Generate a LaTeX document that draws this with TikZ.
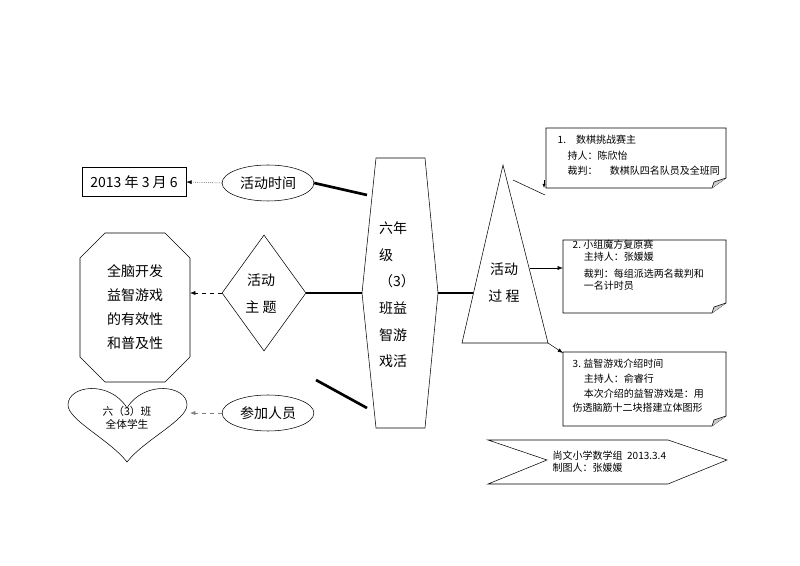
\documentclass[tikz,border=0pt]{standalone}
\usepackage{fontspec}
\setmainfont{Liberation Serif}
\newfontfamily\cjk{Noto Sans CJK SC}
\usetikzlibrary{shapes.geometric,arrows.meta}
\tikzset{
    big/.style={font=\cjk\fontsize{10.5}{12}\selectfont},
    small/.style={font=\cjk\fontsize{7.5}{9}\selectfont, anchor=west},
    thickline/.style={line width=2pt},
    note/.style={draw, fill=white},
}
\begin{document}
\begin{tikzpicture}[x=0.75pt, y=-0.75pt]
    \useasboundingbox (0,0) rectangle (800,566);

    % Left side
    \node[draw, minimum width=78pt, minimum height=22pt, big] (date) at (134,182) {2013 年 3 月 6};
    \node[draw, ellipse, minimum width=68pt, minimum height=27pt, big] (time) at (268,183) {活动时间};
    \draw[densely dotted, -{Latex[length=4pt]}] (time.west) -- (date.east);

    \draw (105,233) -- (165,233) -- (190,258) -- (190,357) -- (165,382) -- (105,382) -- (80,357) -- (80,258) -- cycle;
    \node[big, align=center] (theme) at (135,307) {全脑开发\\[6pt]益智游戏\\[6pt]的有效性\\[6pt]和普及性};
    \coordinate (themeR) at (190,293);
    \node[draw, diamond, minimum width=63pt, minimum height=87pt] (topic) at (264,293) {};
    \node[big, align=center] at (261,294) {活动\\[8pt]主\ 题};
    \draw[dashed, -{Latex[length=4pt]}] (topic.west) -- (themeR);

    \draw (127,408) .. controls (110,380) and (68,385) .. (68,405)
        .. controls (68,420) and (110,440) .. (127,462)
        .. controls (144,440) and (187,420) .. (187,405)
        .. controls (187,385) and (144,380) .. (127,408);
    \node[font=\cjk\fontsize{8}{10}\selectfont, align=center] (heart) at (127,418) {六（3）班\\全体学生};
    \coordinate (heartR) at (190,413);
    \node[draw, ellipse, minimum width=68pt, minimum height=27pt, big] (people) at (268,413) {参加人员};
    \draw[dashed, gray, -{Latex[length=4pt]}] (people.west) -- (heartR);

    % Centre
    \draw (376,158) -- (425,158) -- (438,293) -- (425,428) -- (376,428) -- (362,293) -- cycle;
    \node[big, align=left] (title) at (397,295) {六年\\[8pt]级\\[8pt]（3）\\[8pt]班益\\[8pt]智游\\[8pt]戏活};
    \coordinate (hexL) at (362,293);
    \coordinate (hexR) at (438,293);
    \draw[thickline] (time.east) -- (367,195);
    \draw[thickline] (topic.east) -- (hexL);
    \draw[thickline] (316,380) -- (367,408);

    % Right side
    \draw (503,165) -- (548,343) -- (462,343) -- cycle;
    \coordinate (triL) at (473,293);
    \draw[thickline] (hexR) -- (triL);
    \node[big, align=center] (process) at (504,283) {活动\\[8pt]过\ 程};

    % Notes
    \foreach \t/\b/\n in {128/188/one, 240/313/two, 352/426/three}{
        \draw[note] (546+17*\ifnum\t>200 1\else 0\fi,\t) -- (726,\t) -- (726,\b-10) -- (712,\b) -- (546+17*\ifnum\t>200 1\else 0\fi,\b) -- cycle;
        \fill[gray!40] (726,\b-10) -- (712,\b) -- (714,\b-6) -- cycle;
        \draw (726,\b-10) -- (714,\b-6) -- (712,\b);
    }
    \node[small] (n1) at (553,140) {1.\quad 数棋挑战赛主};
    \node[small] at (563,156) {持人：陈欣怡};
    \node[small] at (563,171) {裁判：\quad\ 数棋队四名队员及全班同};
    \node[small, align=left] (n2) at (568,265) {2.\ 小组魔方复原赛\\\ \ \ \ \ 主持人：张媛媛\\[4pt]\ \ \ \ \ 裁判：每组派选两名裁判和\\\ \ \ \ \ 一名计时员};
    \node[small, align=left] (n3) at (568,386) {3.\ 益智游戏介绍时间\\[2pt]\ \ \ \ \ 主持人：俞睿行\\[2pt]\ \ \ \ \ 本次介绍的益智游戏是：用\\[2pt]伤透脑筋十二块搭建立体图形};
    \coordinate (c1) at (544,188);
    \draw (513,180) -- (545,195);
    \draw[-{Latex[length=3pt]}] (544,180) -- (c1);
    \draw[-{Latex[length=4pt]}] (530,268) -- (563,268);
    \draw[-{Latex[length=4pt]}] (548,343) -- (563,353);

    % Banner
    \draw (488,440) -- (668,440) -- (727,460) -- (668,484) -- (488,484) -- (547,460) -- cycle;
    \node[small, align=left] (credit) at (548,462) {尚文小学数学组\ \ 2013.3.4\\制图人：张媛媛};
\end{tikzpicture}
\end{document}
